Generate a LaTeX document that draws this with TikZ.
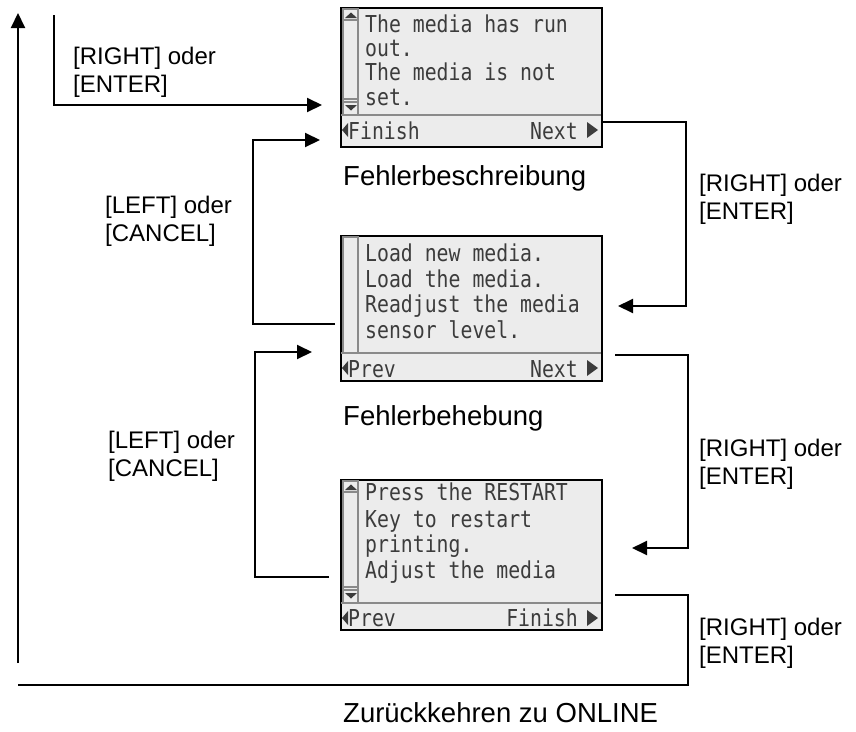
\documentclass[tikz,border=0pt]{standalone}
\usepackage{fontspec}
\usepackage{graphicx}
\setmainfont{Liberation Sans}
\newfontfamily\lcdfont{DejaVu Sans Mono}
\usetikzlibrary{arrows.meta}
\definecolor{lcdbg}{HTML}{ECECEC}
\definecolor{lcdtext}{HTML}{3C3C3C}
\definecolor{lcdline}{HTML}{8A8A8A}
\newcommand\lcdline[1]{\scalebox{0.85}[1]{#1}}
\tikzset{
  screen/.style={draw=black, line width=2pt, fill=lcdbg, minimum width=261pt, inner sep=0pt},
  lcdtxt/.style={font=\lcdfont\fontsize{23.3}{24}\selectfont, text=lcdtext, inner sep=0pt, anchor=base west},
  lcdtxtr/.style={lcdtxt, anchor=base east},
  sepline/.style={draw=lcdline, line width=2pt},
  sbar/.style={draw=lcdline, line width=1.5pt},
  tri/.style={fill=lcdtext, draw=none},
  conn/.style={line width=2pt, -{Triangle[length=15pt,width=14pt]}},
  plain/.style={line width=2pt},
  keylabel/.style={font=\fontsize{24}{28}\selectfont, align=left, anchor=north west, inner sep=0pt},
  title/.style={font=\fontsize{27.5}{33}\selectfont, anchor=base west, inner sep=0pt}
}
\begin{document}
\begin{tikzpicture}[x=1pt, y=-1pt]
\useasboundingbox (0,0) rectangle (856,731);

% ---------- screen 1 ----------
\node[screen, minimum height=139pt] (s1) at (471.5,77.5) {};
\draw[sepline] (341,115) -- (601,115);
\draw[sbar] (343,9) rectangle (358,115);
\draw[sbar] (343,20) -- (358,20);
\draw[sbar] (343,99) -- (358,99) (343,102) -- (358,102);
\fill[tri] (345,18) -- (357,18) -- (351,12.5) -- cycle;
\fill[tri] (345,105) -- (357,105) -- (351,110.5) -- cycle;
\node[lcdtxt] (s1a) at (365,32) {\lcdline{The media has run}};
\node[lcdtxt] (s1b) at (365,56) {\lcdline{out.}};
\node[lcdtxt] (s1c) at (365,80) {\lcdline{The media is not}};
\node[lcdtxt] (s1d) at (365,105) {\lcdline{set.}};
\fill[tri] (348,123) -- (348,137) -- (342,130) -- cycle;
\node[lcdtxt] (s1l) at (348,139) {\lcdline{Finish}};
\node[lcdtxtr] (s1r) at (578,139) {\lcdline{Next}};
\fill[tri] (587,122) -- (587,138) -- (598,130) -- cycle;

% ---------- screen 2 ----------
\node[screen, minimum height=145pt] (s2) at (471.5,308.5) {};
\draw[sepline] (341,353) -- (601,353);
\draw[sbar] (343,237) rectangle (358,353);
\node[lcdtxt] (s2a) at (365,261) {\lcdline{Load new media.}};
\node[lcdtxt] (s2b) at (365,287) {\lcdline{Load the media.}};
\node[lcdtxt] (s2c) at (365,312) {\lcdline{Readjust the media}};
\node[lcdtxt] (s2d) at (365,338) {\lcdline{sensor level.}};
\fill[tri] (348,361) -- (348,375) -- (342,368) -- cycle;
\node[lcdtxt] (s2l) at (348,377) {\lcdline{Prev}};
\node[lcdtxtr] (s2r) at (578,377) {\lcdline{Next}};
\fill[tri] (587,360) -- (587,376) -- (598,368) -- cycle;

% ---------- screen 3 ----------
\node[screen, minimum height=150pt] (s3) at (471.5,555) {};
\draw[sepline] (341,603) -- (601,603);
\draw[sbar] (343,481) rectangle (358,603);
\draw[sbar] (343,492) -- (358,492);
\draw[sbar] (343,587) -- (358,587) (343,590) -- (358,590);
\fill[tri] (345,490) -- (357,490) -- (351,484.5) -- cycle;
\fill[tri] (345,593) -- (357,593) -- (351,598.5) -- cycle;
\node[lcdtxt] (s3a) at (365,500) {\lcdline{Press the RESTART}};
\node[lcdtxt] (s3b) at (365,527) {\lcdline{Key to restart}};
\node[lcdtxt] (s3c) at (365,552) {\lcdline{printing.}};
\node[lcdtxt] (s3d) at (365,578) {\lcdline{Adjust the media}};
\fill[tri] (348,611) -- (348,625) -- (342,618) -- cycle;
\node[lcdtxt] (s3l) at (348,626) {\lcdline{Prev}};
\node[lcdtxtr] (s3r) at (578,626) {\lcdline{Finish}};
\fill[tri] (587,610) -- (587,626) -- (598,618) -- cycle;

% ---------- titles ----------
\node[title] (t1) at (343,185) {Fehlerbeschreibung};
\node[title] (t2) at (343,425) {Fehlerbehebung};
\node[title] (t3) at (343,722) {Zurückkehren zu ONLINE};

% ---------- key labels ----------
\node[keylabel] (k0) at (73,46.5) {[RIGHT] oder\\{[ENTER]}};
\node[keylabel] (k1) at (699,173.5) {[RIGHT] oder\\{[ENTER]}};
\node[keylabel] (k2) at (699,438.5) {[RIGHT] oder\\{[ENTER]}};
\node[keylabel] (k3) at (699,617.5) {[RIGHT] oder\\{[ENTER]}};
\node[keylabel] (k4) at (105,195.5) {[LEFT] oder\\{[CANCEL]}};
\node[keylabel] (k5) at (108,430.5) {[LEFT] oder\\{[CANCEL]}};

% ---------- connector end points ----------
\coordinate (in0a) at (54,15);
\coordinate (in0b) at (322,105);
\coordinate (r1a) at (603,122);
\coordinate (r1b) at (618,306);
\coordinate (r2a) at (615,355);
\coordinate (r2b) at (632,548);
\coordinate (r3a) at (615,595);
\coordinate (r3b) at (18,685);
\coordinate (upa) at (18,663);
\coordinate (upb) at (18,13);
\coordinate (l1a) at (335,324);
\coordinate (l1b) at (320,140);
\coordinate (l2a) at (329,577);
\coordinate (l2b) at (312,352);

% ---------- connectors ----------
\draw[conn] (in0a) |- (in0b);
\draw[conn] (r1a) -| (686,306) -- (r1b);
\draw[conn] (r2a) -| (688,548) -- (r2b);
\draw[plain] (r3a) -| (688,685) -- (r3b);
\draw[conn] (upa) -- (upb);
\draw[conn] (l1a) -| (253,140) -- (l1b);
\draw[conn] (l2a) -| (255,352) -- (l2b);
\end{tikzpicture}
\end{document}
